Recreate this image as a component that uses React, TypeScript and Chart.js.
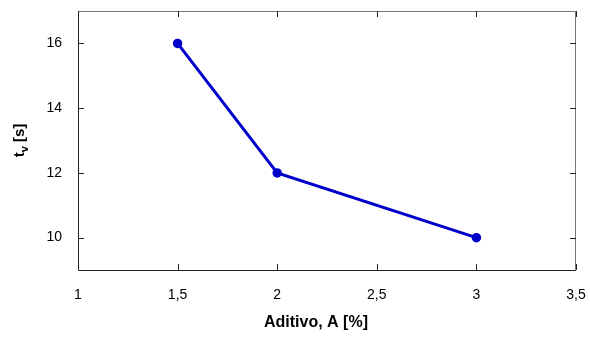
import React, { useEffect, useRef } from "react";
import { Chart, registerables } from "chart.js";

Chart.register(...registerables);

const additiveValues = [1.5, 2, 3];
const tvValues = [16, 12, 10];
const xTickValues = [1, 1.5, 2, 2.5, 3, 3.5];
const yTickValues = [10, 12, 14, 16];
const xTitle = "Aditivo, A [%]";
const yTitleMain = "t";
const yTitleSub = "v";
const yTitleRest = " [s]";

const FONT = "'Liberation Sans', Arial, sans-serif";

const framePlugin = {
  id: "frameTicks",
  afterDraw(chart: any) {
    const { ctx, chartArea, scales } = chart;
    const { left, right, top, bottom } = chartArea;
    const tl = 6;
    ctx.save();
    ctx.lineWidth = 1;
    ctx.strokeStyle = "#222";
    ctx.beginPath();
    ctx.moveTo(left + 0.5, top);
    ctx.lineTo(left + 0.5, bottom + 0.5);
    ctx.lineTo(right, bottom + 0.5);
    ctx.stroke();
    ctx.strokeStyle = "#777";
    ctx.beginPath();
    ctx.moveTo(left, top + 0.5);
    ctx.lineTo(right - 0.5, top + 0.5);
    ctx.lineTo(right - 0.5, bottom + 0.5);
    ctx.stroke();
    ctx.strokeStyle = "#222";
    ctx.beginPath();
    for (const v of xTickValues) {
      const x = Math.round(scales.x.getPixelForValue(v)) + 0.5;
      ctx.moveTo(x, bottom);
      ctx.lineTo(x, bottom - tl);
      ctx.moveTo(x, top);
      ctx.lineTo(x, top + tl);
    }
    for (const v of yTickValues) {
      const y = Math.round(scales.y.getPixelForValue(v)) + 0.5;
      ctx.moveTo(left, y);
      ctx.lineTo(left + tl, y);
      ctx.moveTo(right, y);
      ctx.lineTo(right - tl, y);
    }
    ctx.stroke();

    // x title
    ctx.fillStyle = "#000";
    ctx.font = `bold 16px ${FONT}`;
    ctx.textAlign = "center";
    ctx.textBaseline = "middle";
    ctx.fillText(xTitle, (left + right) / 2 - 11, 323);

    // y title with subscript
    const cy = (top + bottom) / 2;
    ctx.translate(20, cy);
    ctx.rotate(-Math.PI / 2);
    const mainFont = `bold 15px ${FONT}`;
    const subFont = `bold 11px ${FONT}`;
    ctx.font = mainFont;
    const w1 = ctx.measureText(yTitleMain).width;
    const w3 = ctx.measureText(yTitleRest).width;
    ctx.font = subFont;
    const w2 = ctx.measureText(yTitleSub).width;
    const total = w1 + w2 + w3;
    let x0 = -total / 2;
    ctx.textAlign = "left";
    ctx.font = mainFont;
    ctx.fillText(yTitleMain, x0, 0);
    x0 += w1;
    ctx.font = subFont;
    ctx.fillText(yTitleSub, x0, 5);
    x0 += w2;
    ctx.font = mainFont;
    ctx.fillText(yTitleRest, x0, 0);
    ctx.restore();
  },
};

const zeroPad = (s: any) => {
  s.paddingTop = 0;
  s.paddingBottom = 0;
  s.paddingLeft = 0;
  s.paddingRight = 0;
};

export default function App() {
  const ref = useRef<HTMLCanvasElement>(null);
  useEffect(() => {
    if (!ref.current) return;
    const chart = new Chart(ref.current, {
      type: "scatter",
      data: {
        datasets: [
          {
            data: additiveValues.map((x, i) => ({ x, y: tvValues[i] })),
            showLine: true,
            borderColor: "#0000CC",
            backgroundColor: "#0000CC",
            borderWidth: 3,
            pointRadius: 4,
            pointBorderWidth: 1.5,
            pointHoverRadius: 4,
          },
        ],
      },
      options: {
        animation: false,
        responsive: false,
        maintainAspectRatio: false,
        layout: { autoPadding: false, padding: { top: 11, right: 14, left: 0, bottom: 0 } },
        plugins: { legend: { display: false }, tooltip: { enabled: false } },
        scales: {
          x: {
            type: "linear",
            min: 1,
            max: 3.5,
            afterBuildTicks: (s: any) => {
              s.ticks = xTickValues.map((v) => ({ value: v }));
            },
            afterFit: (s: any) => {
              s.height = 68;
              zeroPad(s);
            },
            grid: { display: false, drawTicks: false },
            border: { display: false },
            ticks: {
              padding: 17,
              color: "#000",
              font: { family: FONT, size: 14 },
              maxRotation: 0,
              callback: (v: any) => String(v).replace(".", ","),
            },
          },
          y: {
            type: "linear",
            min: 9,
            max: 17,
            afterBuildTicks: (s: any) => {
              s.ticks = yTickValues.map((v) => ({ value: v }));
            },
            afterFit: (s: any) => {
              s.width = 78;
              zeroPad(s);
            },
            grid: { display: false, drawTicks: false },
            border: { display: false },
            ticks: {
              padding: 16,
              color: "#000",
              font: { family: FONT, size: 14 },
            },
          },
        },
      },
      plugins: [framePlugin],
    } as any);
    return () => chart.destroy();
  }, []);
  return (
    <div style={{ position: "absolute", left: 0, top: 0, width: 590, height: 338, background: "#fff" }}>
      <canvas ref={ref} width={590} height={338} style={{ width: 590, height: 338 }} />
    </div>
  );
}
